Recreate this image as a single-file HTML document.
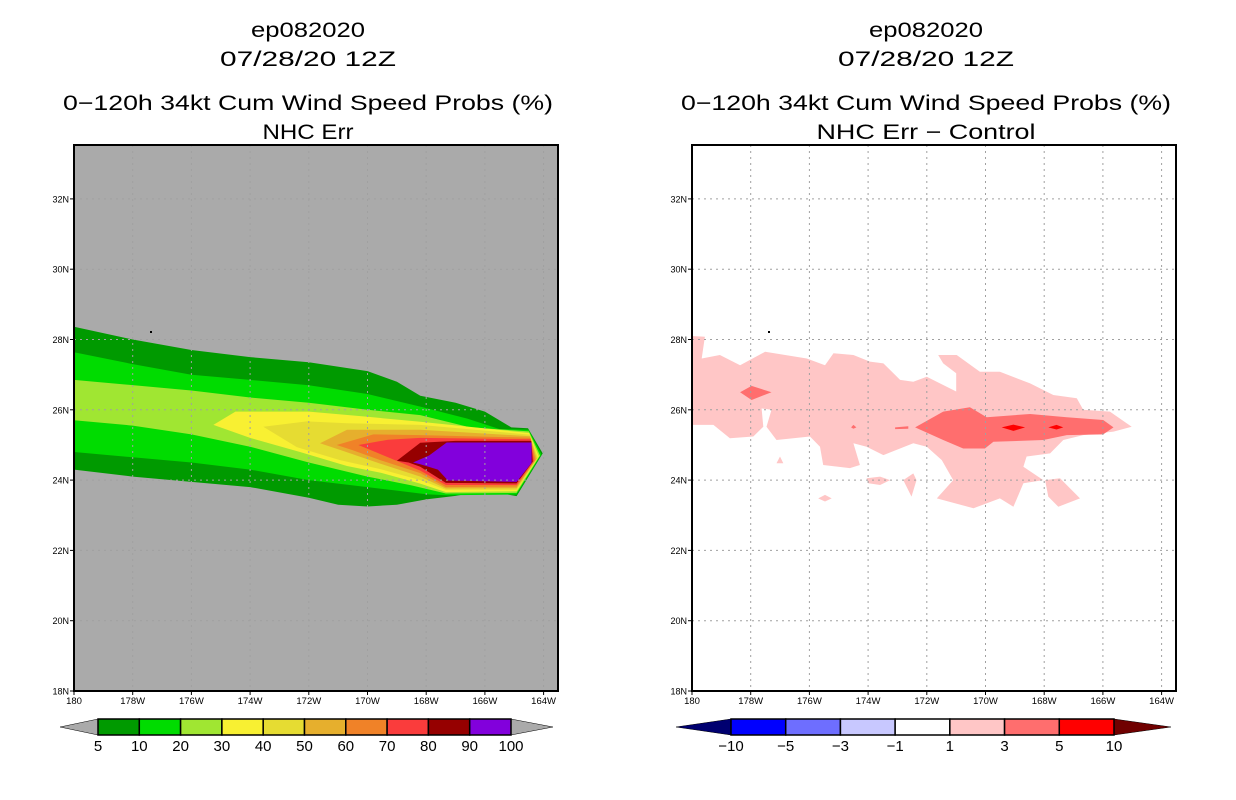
<!DOCTYPE html>
<html><head><meta charset="utf-8"><style>
html,body{margin:0;padding:0;background:#fff;}
svg{display:block;}
text{font-family:"Liberation Sans",sans-serif;fill:#000;}
</style></head><body>
<svg id="chart" width="1236" height="800" viewBox="0 0 1236 800" xmlns="http://www.w3.org/2000/svg"></svg>
<script>
// ---------- data ----------
const lonTicks = [180,178,176,174,172,170,168,166,164];
const lonTickLabels = ["180","178W","176W","174W","172W","170W","168W","166W","164W"];
const latTicks = [18,20,22,24,26,28,30,32];
const latTickLabels = ["18N","20N","22N","24N","26N","28N","30N","32N"];

const probLevels = [5,10,20,30,40,50,60,70,80,90,100];
const probColors = ["#009a00","#00dc00","#a0e632","#f8f032","#e6dc32","#e6af2d","#f08228","#fa3c3c","#960000","#8200dc"];
const diffLevels = ["-10","-5","-3","-1","1","3","5","10"];
const diffColors = ["#0000ff","#6e6eff","#c8c8ff","#ffffff","#ffc6c6","#ff6e6e","#ff0000"];

// probability contours: [lonW, lat]
const prob5 = [[180,28.36],[178,28.0],[176,27.7],[174,27.5],[172,27.35],[170,27.1],[169,26.8],[168.2,26.4],[167,26.2],[166,25.95],[165.8,25.85],[165.1,25.5],[164.53,25.475],[164.03,24.76],[164.92,23.545],[166,23.7],[167,23.55],[168,23.45],[169,23.3],[170,23.25],[171,23.3],[172,23.5],[174,23.8],[176,23.95],[178,24.1],[180,24.3]];
const prob10 = [[180,27.64],[178,27.3],[176,27.0],[174,26.85],[172,26.7],[170,26.45],[168.2,26.09],[166.6,25.75],[165.5,25.45],[164.51,25.43],[164.07,24.73],[164.92,23.59],[167.33,23.57],[168,23.6],[169,23.7],[170,23.8],[172,24.0],[174,24.3],[176,24.5],[178,24.65],[180,24.8]];
const prob20 = [[180,26.85],[176,26.55],[174,26.35],[172,26.2],[170,26.0],[168.2,25.85],[166.5,25.5],[164.50,25.385],[164.12,24.70],[164.92,23.635],[167.33,23.62],[168.5,23.85],[170,24.1],[172,24.5],[174,24.95],[176,25.3],[178,25.55],[180,25.7]];
const prob30 = [[175.25,25.57],[174.5,25.95],[172,25.95],[170,25.8],[168.2,25.66],[164.49,25.34],[164.16,24.67],[164.92,23.68],[167.33,23.66],[168.2,23.9],[169.5,24.2],[170.7,24.4],[172.3,24.8],[174,25.2]];
const prob40 = [[173.55,25.52],[172.07,25.67],[170.7,25.62],[168.2,25.57],[164.48,25.295],[164.20,24.64],[164.92,23.725],[167.33,23.72],[168.2,24.0],[169.5,24.3],[170.94,24.57],[172.41,24.94]];
const prob50 = [[171.62,25.05],[170.7,25.43],[168.2,25.43],[164.46,25.25],[164.24,24.61],[164.92,23.77],[167.33,23.76],[168.2,24.1],[169.5,24.45],[170.9,24.85]];
const prob60 = [[171.05,25.0],[169.8,25.3],[168.2,25.28],[164.45,25.205],[164.28,24.58],[164.92,23.815],[167.33,23.8],[168.2,24.2],[169.5,24.55],[170.5,24.85]];
const prob70 = [[170.31,25.0],[169.3,25.15],[168.2,25.2],[164.44,25.16],[164.33,24.55],[164.92,23.86],[167.33,23.86],[168.2,24.27],[169.3,24.65]];
const prob80 = [[169.0,24.55],[168.2,25.06],[167.0,25.115],[164.42,25.115],[164.37,24.52],[164.92,23.905],[167.33,23.92],[168.2,24.38],[168.6,24.5]];
const prob90 = [[168.45,24.5],[167.9,24.7],[167.3,25.07],[164.41,25.07],[164.41,24.49],[164.92,23.95],[167.26,23.99],[167.6,24.3],[168.2,24.45]];
const probContours = [prob5,prob10,prob20,prob30,prob40,prob50,prob60,prob70,prob80,prob90];

// difference contours
const diffPinkMain = [[180,28.10],[179.56,28.08],[179.67,27.46],[179.05,27.56],[178.36,27.27],[177.51,27.65],[176.09,27.46],[175.47,27.27],[175.18,27.61],[174.5,27.56],[173.94,27.37],[173.48,27.32],[172.91,26.85],[172.46,26.80],[172.0,26.94],[171.0,26.52],[171.0,27.04],[171.44,27.32],[171.61,27.56],[170.98,27.56],[170.19,27.08],[169.51,27.08],[168.48,26.75],[167.69,26.42],[166.89,26.33],[166.67,26.0],[165.76,25.95],[165.02,25.52],[165.64,25.38],[166.67,25.28],[167.35,25.14],[167.80,24.76],[168.60,24.67],[168.71,24.38],[168.03,24.0],[168.71,23.91],[169.05,23.24],[169.51,23.48],[170.41,23.20],[171.66,23.48],[171.10,24.0],[171.49,24.57],[172.0,24.95],[172.46,25.05],[173.48,24.71],[174.05,24.95],[174.5,25.05],[174.28,24.43],[174.62,24.34],[175.53,24.43],[175.64,24.95],[175.98,25.24],[177.12,25.14],[177.46,25.52],[177.29,26.0],[177.63,26.04],[177.57,25.52],[177.91,25.24],[178.71,25.19],[179.27,25.57],[180,25.57]];
const diffPinkB1 = [[177.0,24.67],[176.89,24.48],[177.12,24.48]];
const diffPinkB2 = [[175.70,23.48],[175.47,23.58],[175.24,23.48],[175.47,23.39]];
const diffPinkB3 = [[174.05,24.05],[173.59,24.10],[173.25,24.0],[173.59,23.86],[173.99,23.91]];
const diffPinkB4 = [[172.80,24.0],[172.46,24.19],[172.35,24.0],[172.52,23.53]];
const diffPinkB5 = [[167.97,24.0],[167.46,24.05],[166.78,23.48],[167.52,23.24],[167.86,23.53]];
const diffSalmon1 = [[178.36,26.50],[177.97,26.68],[177.29,26.50],[177.97,26.28]];
const diffSalmon2 = [[174.58,25.50],[174.5,25.57],[174.4,25.50],[174.5,25.46]];
const diffSalmon3 = [[173.08,25.50],[172.63,25.53],[172.63,25.46],[173.08,25.45]];
const diffSalmon4 = [[172.40,25.50],[171.44,25.95],[170.53,26.07],[169.96,25.79],[168.48,25.88],[167.23,25.79],[165.99,25.71],[165.64,25.50],[165.99,25.30],[167.23,25.28],[168.03,25.14],[169.73,25.09],[170.02,24.90],[170.76,24.90],[171.44,25.14]];
const diffRed1 = [[169.45,25.50],[169.05,25.58],[168.65,25.50],[169.05,25.40]];
const diffRed2 = [[167.86,25.50],[167.58,25.57],[167.35,25.50],[167.58,25.44]];
const diffPinkContours = [diffPinkMain,diffPinkB1,diffPinkB2,diffPinkB3,diffPinkB4,diffPinkB5];
const diffSalmonContours = [diffSalmon1,diffSalmon2,diffSalmon3,diffSalmon4];
const diffRedContours = [diffRed1,diffRed2];

// ---------- drawing ----------
const NS = "http://www.w3.org/2000/svg";
const svg = document.getElementById('chart');
function el(tag, attrs, parent){ const e=document.createElementNS(NS,tag); for(const k in attrs) e.setAttribute(k,attrs[k]); (parent||svg).appendChild(e); return e; }

const PY0=145, PY1=691, LAT0=18, LATPX=35.15, LONPX=29.35;
function makeX(x0){ return lon => x0 + (180-lon)*LONPX; }
function yScale(lat){ return PY1 - (lat-LAT0)*LATPX; }

function drawPanel(x0, isLeft, name, t1, t2, t3, t4, w4){
  const xs = makeX(x0), x1 = x0+484, cx=(x0+x1)/2-8;
  const g = el('g',{});  
  const titles=[[t1,37,114],[t2,66,176],[t3,110,490],[t4,139,w4]];
  titles.forEach((t,i)=>{ const tx=el('text',{x:cx,y:t[1],'text-anchor':'middle','font-size':21},g);
     
    tx.setAttribute('textLength',t[2]); tx.setAttribute('lengthAdjust','spacingAndGlyphs');
    tx.textContent=t[0]; });
  const bg = el('rect',{x:x0,y:PY0,width:484,height:PY1-PY0,fill:isLeft?'#aaaaaa':'#ffffff'},g);
   
  const clipId='clip'+x0;
  const cp=el('clipPath',{id:clipId},g); el('rect',{x:x0,y:PY0,width:484,height:PY1-PY0},cp);
  const fills=el('g',{'clip-path':'url(#'+clipId+')'},g);
  function poly(pts,color,nm){ const p=el('polygon',{points:pts.map(p=>xs(p[0]).toFixed(1)+','+yScale(p[1]).toFixed(1)).join(' '),fill:color},fills);
      }
  if(isLeft){ probContours.forEach((c,i)=>poly(c,probColors[i],'contour-'+probLevels[i]+'pct')); }
  else {
    diffPinkContours.forEach(c=>poly(c,diffColors[4],'contour-diff-1-3'));
    diffSalmonContours.forEach(c=>poly(c,diffColors[5],'contour-diff-3-5'));
    diffRedContours.forEach(c=>poly(c,diffColors[6],'contour-diff-5-10'));
  }
  lonTicks.forEach((l,i)=>{ const x=xs(l); if(x>x0+1 && x<x1-1){ const ln=el('line',{x1:x,x2:x,y1:PY0,y2:PY1,stroke:'#a0a0a0','stroke-dasharray':'2,4','stroke-width':1},g);
        } });
  latTicks.forEach((l,i)=>{ const y=yScale(l); if(y<PY1-1){ const ln=el('line',{x1:x0,x2:x1,y1:y,y2:y,stroke:'#a0a0a0','stroke-dasharray':'2,4','stroke-width':1},g);
        } });
  const fr=el('rect',{x:x0,y:PY0,width:484,height:PY1-PY0,fill:'none',stroke:'#000','stroke-width':2},g);
   
  lonTicks.forEach((l,i)=>{ const x=xs(l); el('line',{x1:x,x2:x,y1:PY1,y2:PY1+4,stroke:'#000'},g);
    const t=el('text',{x:x,y:PY1+13,'text-anchor':'middle','font-size':9.5},g);
      t.textContent=lonTickLabels[i]; });
  latTicks.forEach((l,i)=>{ const y=yScale(l); el('line',{x1:x0-4,x2:x0,y1:y,y2:y,stroke:'#000'},g);
    const t=el('text',{x:x0-5,y:y+3.5,'text-anchor':'end','font-size':9},g);
      t.textContent=latTickLabels[i]; });
  el('rect',{x:x0+76,y:331,width:2,height:2,fill:'#000'},g);
}

function drawColorbar(tipL, bx0, bx1, tipR, colors, labels, leftTri, rightTri, name){
  const g=el('g',{});  
  const y0=719,y1=735,ym=727;
  el('polygon',{points:`${tipL},${ym} ${bx0},${y0} ${bx0},${y1}`,fill:leftTri,stroke:'#000','stroke-width':0.5},g);
  el('polygon',{points:`${tipR},${ym} ${bx1},${y0} ${bx1},${y1}`,fill:rightTri,stroke:'#000','stroke-width':0.5},g);
  const w=(bx1-bx0)/colors.length;
  colors.forEach((c,i)=>{ const r=el('rect',{x:bx0+i*w,y:y0,width:w,height:y1-y0,fill:c,stroke:'#000','stroke-width':1.5},g);
      });
  labels.forEach((lb,i)=>{ const t=el('text',{x:bx0+i*w,y:751,'text-anchor':'middle','font-size':15},g);
      t.textContent=lb.replace('-','\u2212'); });
}

drawPanel(74,true,'left-panel-probabilities','ep082020','07/28/20 12Z','0\u2212120h 34kt Cum Wind Speed Probs (%)','NHC Err',91);
drawPanel(692,false,'right-panel-difference','ep082020','07/28/20 12Z','0\u2212120h 34kt Cum Wind Speed Probs (%)','NHC Err \u2212 Control',219);
drawColorbar(60,98,511,553,probColors,probLevels.map(String),'#aaaaaa','#aaaaaa','left-colorbar');
drawColorbar(676,731,1114,1171,diffColors,diffLevels,'#000070','#700000','right-colorbar');
</script>
</body></html>
